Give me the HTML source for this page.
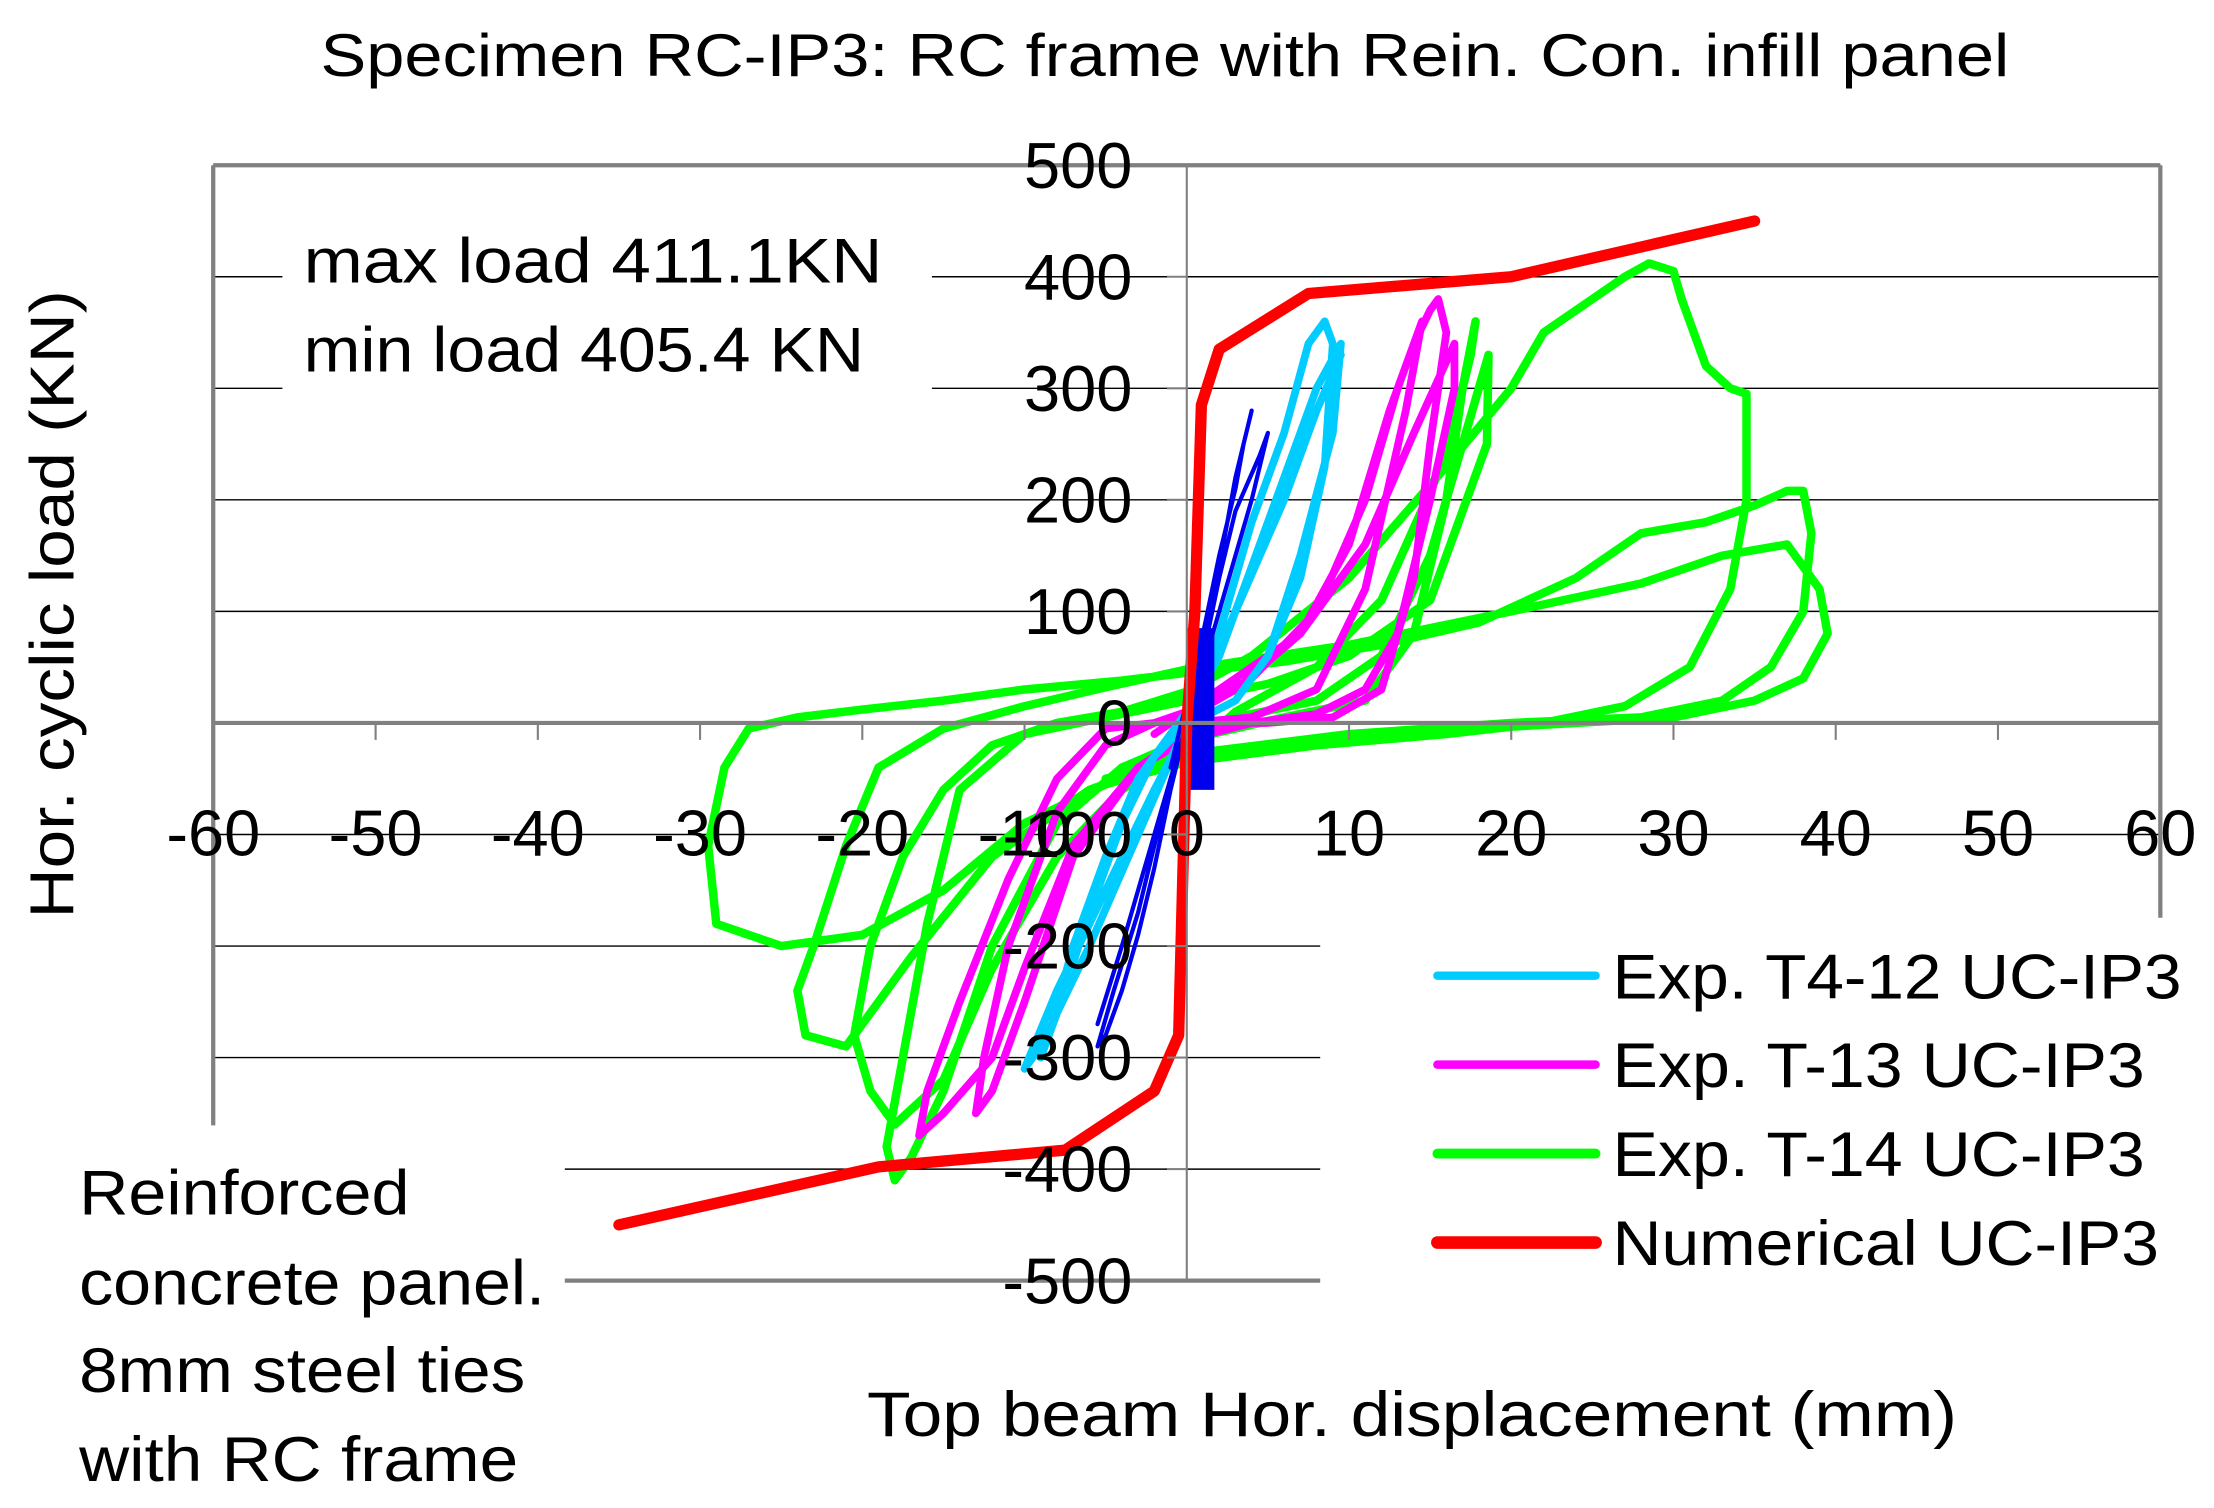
<!DOCTYPE html>
<html><head><meta charset="utf-8"><style>
html,body{margin:0;padding:0;background:#fff;}
svg{display:block;font-family:"Liberation Sans",Arial,sans-serif;}
</style></head><body>
<svg id="chart" width="2214" height="1508" viewBox="0 0 1568 1068" xmlns="http://www.w3.org/2000/svg">
<rect x="0" y="0" width="1568" height="1068" fill="#fff"/>
<g id="grid"></g>
<g id="frame" stroke="#808080" stroke-width="3" fill="none">
<line x1="151" y1="117" x2="1530" y2="117"/>
<line x1="151" y1="117" x2="151" y2="797"/>
<line x1="1530" y1="117" x2="1530" y2="650"/>
<line x1="400" y1="907" x2="935" y2="907"/>
</g>
<g id="series"></g>
<g id="axes"></g>
<text x="825" y="54" font-size="43" text-anchor="middle" textLength="1196" lengthAdjust="spacingAndGlyphs">Specimen RC-IP3: RC frame with Rein. Con. infill panel</text>
<text transform="translate(52,428) rotate(-90)" font-size="44" text-anchor="middle" textLength="445" lengthAdjust="spacingAndGlyphs">Hor. cyclic load (KN)</text>
<text x="1000" y="1017" font-size="45" text-anchor="middle" textLength="772" lengthAdjust="spacingAndGlyphs">Top beam Hor.  displacement (mm)</text>
<rect x="200" y="150" width="460" height="130" fill="#fff"/>
<text x="215" y="200" font-size="45" textLength="410" lengthAdjust="spacingAndGlyphs">max  load 411.1KN</text>
<text x="215" y="263" font-size="45" textLength="397" lengthAdjust="spacingAndGlyphs">min load 405.4 KN</text>
<g font-size="45">
<text x="56" y="860" textLength="234" lengthAdjust="spacingAndGlyphs">Reinforced</text>
<text x="56" y="924" textLength="330" lengthAdjust="spacingAndGlyphs">concrete panel.</text>
<text x="56" y="986" textLength="316" lengthAdjust="spacingAndGlyphs">8mm steel ties</text>
<text x="56" y="1049" textLength="311" lengthAdjust="spacingAndGlyphs">with RC frame</text>
</g>
<g id="legend" font-size="45"></g>
<script>
const X0=840.5, PXMM=11.49, Y0=512, PXKN=0.79;
function sx(v){return X0+v*PXMM;}
function sy(v){return Y0-v*PXKN;}
const xTicks=[-60,-50,-40,-30,-20,-10,0,10,20,30,40,50,60];
const yTicks=[500,400,300,200,100,0,-100,-200,-300,-400,-500];
const seriesNames=["Exp. T4-12 UC-IP3","Exp. T-13 UC-IP3","Exp. T-14 UC-IP3","Numerical UC-IP3"];
const legendWidths=[403,377,377,387];
const numX=[-35,-19,-7.5,-2,-0.5,0,0.5,0.9,2,7.5,20,35];
const numY=[-450,-398,-383,-330,-280,0,100,285,335,385,400,450];
const greenX=[-5,0,3,8,12,16,17.5,17.8,17,16,14,11,6,0,-4,-8,-12,-15,-17,-18,-18.5,-17.5,-16,-14,-10,-5,0,5,10,15,18.5,18.6,18,17,15,12,8,3,0,-4,-8,-12,-15,-18,-19.5,-20.5,-19.5,-17.5,-15,-12,-8,-4,0,4,10,16,20,22,25,27,28.5,30,30.5,32,33.5,34.5,34.5,33.5,31,27,22,16,8,0,-5,-10,-15,-20,-25,-29,-29.5,-28.5,-27,-24,-20,-15,-10,-4,0,6,12,18,24,28,32,35,37,38,38.5,38,36,33,28,20,10,0,-6,-12,-17,-21,-23.5,-24,-23,-21,-19,-15,-10,-5,0,10,20,28,33,37,39,39.5,38,35,30,24,18,10,3];
const greenY=[-50,-30,10,50,110,240,330,360,300,200,80,20,5,-15,-40,-90,-200,-330,-390,-410,-380,-300,-180,-60,-10,5,20,35,60,110,250,330,300,250,150,60,20,5,-20,-60,-120,-220,-320,-360,-330,-280,-200,-120,-60,-20,0,10,28,60,130,230,300,350,380,400,412,405,380,320,300,295,200,120,50,15,0,-10,-20,-35,-55,-90,-150,-190,-200,-180,-110,-40,-5,5,12,20,30,38,45,55,70,90,130,170,180,195,208,208,170,100,50,20,5,0,-10,-28,-60,-120,-210,-290,-280,-240,-200,-110,-40,-5,15,32,48,70,100,125,150,160,120,80,40,20,5,0,-5];
const magX=[-2,0,3,7,10,12.5,14,15,15.5,16,15,14,12,9,5,2,0,-3,-7,-10,-12,-13,-12.5,-11,-8,-5,-2,0,3,7,11,14,16.5,16.5,15,13,11,8,4,0,-3,-7,-10,-12,-15,-16.5,-16,-14,-11,-8,-5,-2,0,4,8,11,13,14.5,13.5,11,8,4,0];
const magY=[-10,10,40,80,160,280,340,370,380,350,250,130,30,5,0,0,-10,-40,-120,-250,-330,-350,-300,-200,-80,-20,0,5,30,80,160,260,340,300,200,80,30,8,0,-15,-40,-110,-220,-300,-350,-370,-330,-250,-140,-50,-5,0,10,40,100,200,300,360,280,120,30,5,0];
const cyanX=[-1,0,2,4,6,7.5,8.5,9,8.5,7,5,3,1,0,-2,-4,-6,-8,-9,-8.5,-7,-5,-3,-1,0,2,4,6,8,9.5,9,7,5,3,1,0,-2,-5,-8,-10,-9,-6,-3,0,3,6,8,9.5];
const cyanY=[-10,10,80,180,260,340,360,340,230,130,60,20,5,0,-30,-90,-170,-260,-300,-280,-200,-120,-50,-10,10,60,140,220,300,340,260,150,60,20,5,-5,-60,-150,-240,-310,-290,-200,-100,0,100,200,280,330];
const blueX=[-1,0,1,2,3,3.5,4,3,2,1,0,-1,-2,-3,-4,-5,-5.5,-4.5,-3,-2,-1,0,1,2,3,4.5,5,4,2,0,-2,-4,-5.5];
const blueY=[-40,20,80,150,210,250,280,220,140,60,0,-60,-130,-190,-240,-280,-290,-240,-170,-110,-50,0,60,130,190,240,260,200,100,0,-100,-200,-270];
const blueBarX=[0,1.7];
const blueBarY=[-60,85];

const NS="http://www.w3.org/2000/svg";
function mk(tag,attrs,parent){const e=document.createElementNS(NS,tag);for(const k in attrs)e.setAttribute(k,attrs[k]);parent.appendChild(e);return e;}
const grid=document.getElementById('grid');
yTicks.forEach(v=>{
  if(v===0)return;
  let x1=151,x2=1530;
  if(v<=-200){x2=935;}
  if(v<=-400){x1=400;}
  if(v===-500)return;
  const l=mk('line',{x1:x1,x2:x2,y1:sy(v),y2:sy(v),stroke:'#000','stroke-width':1},grid);
  
  
});
const ser=document.getElementById('series');
function poly(xs,ys,color,w,name){
  const pts=xs.map((x,i)=>sx(x)+','+sy(ys[i])).join(' ');
  const p=mk('polyline',{points:pts,fill:'none',stroke:color,'stroke-width':w,'stroke-linejoin':'round','stroke-linecap':'round'},ser);
  
  
}
poly(greenX,greenY,'#00ff00',6,'series-t14');
poly(magX,magY,'#ff00ff',5.5,'series-t13');
poly(cyanX,cyanY,'#00ccff',5.5,'series-t4-12');
poly(blueX,blueY,'#0000ee',3,'series-blue');
const bb=mk('rect',{x:sx(blueBarX[0]),y:sy(blueBarY[1]),width:sx(blueBarX[1])-sx(blueBarX[0]),height:sy(blueBarY[0])-sy(blueBarY[1]),fill:'#0000ee'},ser);


poly(numX,numY,'#ff0000',8,'series-numerical');
const ax=document.getElementById('axes');
const xa=mk('line',{x1:151,x2:1530,y1:Y0,y2:Y0,stroke:'#808080','stroke-width':3},ax);


const ya=mk('line',{x1:X0,x2:X0,y1:117,y2:907,stroke:'#808080','stroke-width':1.5},ax);


xTicks.forEach(v=>{
  mk('line',{x1:sx(v),x2:sx(v),y1:Y0,y2:Y0+12,stroke:'#808080','stroke-width':1.5},ax);
  const t=mk('text',{x:sx(v),y:606,'font-size':46,'text-anchor':'middle'},ax);
  t.textContent=v;
  
  
});
yTicks.forEach(v=>{
  mk('line',{x1:X0-14,x2:X0,y1:sy(v),y2:sy(v),stroke:'#808080','stroke-width':1.5},ax);
  const t=mk('text',{x:802,y:sy(v)+16,'font-size':46,'text-anchor':'end'},ax);
  t.textContent=v;
  
  
});
const lg=document.getElementById('legend');
const lc=['#00ccff','#ff00ff','#00ff00','#ff0000'];
const lw=[6,6,7,9];
seriesNames.forEach((n,i)=>{
  const y=691+i*63;
  const l=mk('line',{x1:1018,x2:1130,y1:y,y2:y,stroke:lc[i],'stroke-width':lw[i],'stroke-linecap':'round'},lg);
  
  
  const t=mk('text',{x:1142,y:y+16,'font-size':45,textLength:legendWidths[i],lengthAdjust:'spacingAndGlyphs'},lg);
  t.textContent=n;
  
  
});
</script>
</svg>
</body></html>
